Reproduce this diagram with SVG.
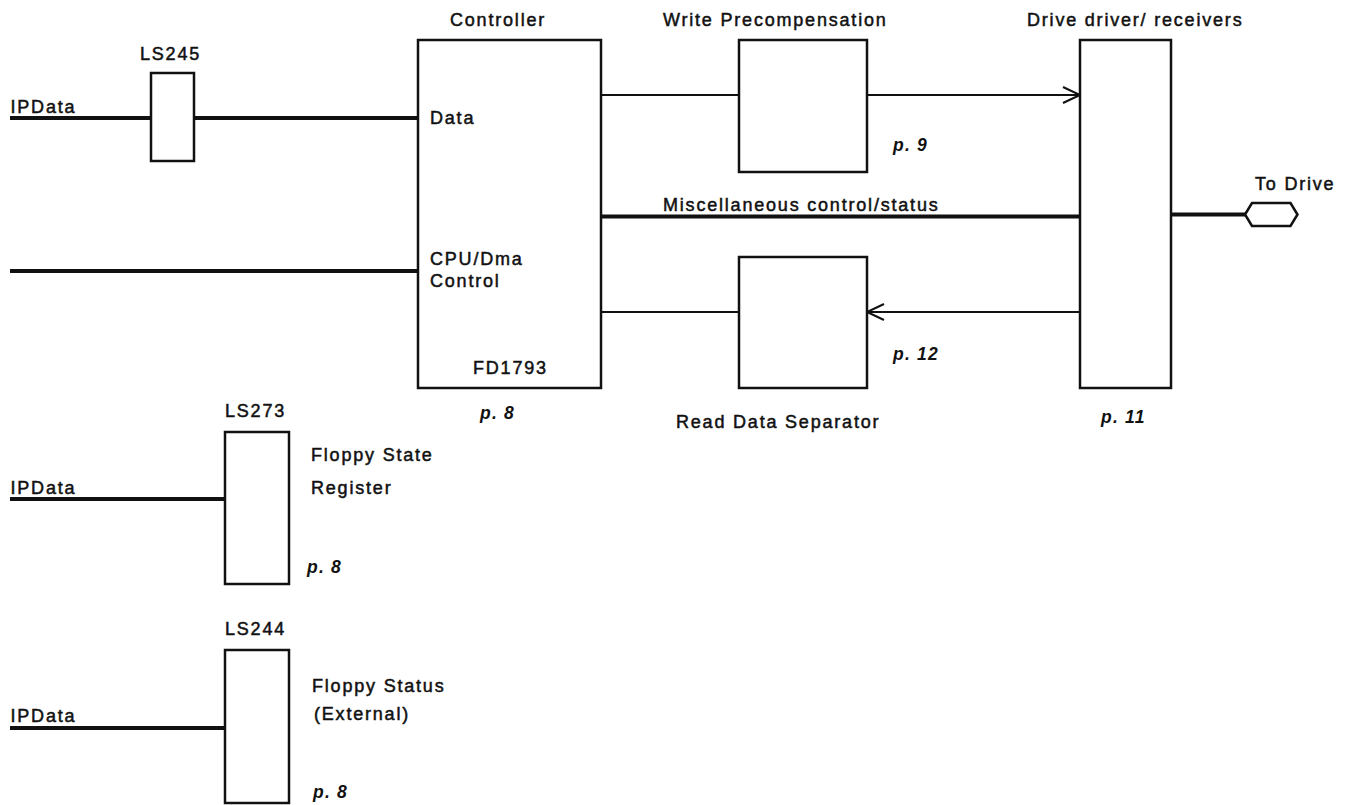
<svg xmlns="http://www.w3.org/2000/svg" width="1349" height="805" viewBox="0 0 1349 805">
<style>
  .box { fill: #fff; stroke: #111; stroke-width: 2.5; }
  .thick { stroke: #111; stroke-width: 4; fill: none; }
  .thin { stroke: #111; stroke-width: 2; fill: none; }
  .t { font-family: "Liberation Sans", Arial, sans-serif; font-size: 18px; letter-spacing: 1.8px; fill: #111; stroke: #111; stroke-width: 0.5; }
  .p { font-family: "Liberation Sans", Arial, sans-serif; font-size: 17.5px; font-style: italic; font-weight: bold; letter-spacing: 1.2px; fill: #111; }
</style>
<defs>
  <marker id="arr" markerUnits="userSpaceOnUse" markerWidth="20" markerHeight="20" refX="0" refY="0" orient="auto" overflow="visible">
    <path d="M-17,-8 L0,0 L-17,8" fill="none" stroke="#111" stroke-width="2"/>
  </marker>
</defs>
<rect width="1349" height="805" fill="#fff"/>

<g id="connectors">
  <line class="thick" x1="10" y1="118" x2="151" y2="118"/>
  <line class="thick" x1="194" y1="118" x2="418" y2="118"/>
  <line class="thick" x1="10" y1="271" x2="418" y2="271"/>
  <line class="thin" x1="601" y1="95" x2="739" y2="95"/>
  <line class="thin" x1="867" y1="95" x2="1080" y2="95" marker-end="url(#arr)"/>
  <line class="thick" x1="601" y1="216.5" x2="1080" y2="216.5"/>
  <line class="thin" x1="601" y1="312" x2="739" y2="312"/>
  <line class="thin" x1="1080" y1="312" x2="867" y2="312" marker-end="url(#arr)"/>
  <line class="thick" x1="1171" y1="214.5" x2="1245" y2="214.5"/>
  <line class="thick" x1="10" y1="499" x2="225" y2="499"/>
  <line class="thick" x1="10" y1="728" x2="225" y2="728"/>
</g>

<g id="ipdata1"><text class="t" x="10.5" y="112.5">IPData</text></g>

<g id="ls245">
  <rect class="box" x="151" y="73" width="43" height="88"/>
  <text class="t" x="140" y="59.5">LS245</text>
</g>

<g id="controller">
  <rect class="box" x="418" y="40" width="183" height="348"/>
  <text class="t" x="450" y="26">Controller</text>
  <text class="t" x="430" y="124">Data</text>
  <text class="t" x="430" y="265">CPU/Dma</text>
  <text class="t" x="430" y="287">Control</text>
  <text class="t" x="473" y="374">FD1793</text>
  <text class="p" x="480" y="419">p. 8</text>
</g>

<g id="write-precomp">
  <rect class="box" x="739" y="40" width="128" height="132"/>
  <text class="t" x="663" y="25.5">Write Precompensation</text>
  <text class="p" x="893" y="150.5">p. 9</text>
</g>

<g id="misc-label">
  <text class="t" x="663" y="210.5">Miscellaneous control/status</text>
</g>

<g id="read-sep">
  <rect class="box" x="739" y="257" width="128" height="131"/>
  <text class="t" x="676" y="427.5">Read Data Separator</text>
  <text class="p" x="893" y="360">p. 12</text>
</g>

<g id="drive">
  <rect class="box" x="1080" y="40" width="91" height="348"/>
  <text class="t" x="1027" y="25.5">Drive driver/ receivers</text>
  <text class="p" x="1101" y="422.5">p. 11</text>
</g>

<g id="to-drive">
  <polygon class="box" points="1245,214.5 1252,203 1290.5,203 1297.5,214.5 1290.5,226 1252,226"/>
  <text class="t" x="1255" y="189.5">To Drive</text>
</g>

<g id="ls273">
  <text class="t" x="10.5" y="493.5">IPData</text>
  <rect class="box" x="225" y="432" width="64" height="152"/>
  <text class="t" x="225" y="416.5">LS273</text>
  <text class="t" x="311" y="461">Floppy State</text>
  <text class="t" x="311" y="493.5">Register</text>
  <text class="p" x="307" y="572.5">p. 8</text>
</g>

<g id="ls244">
  <text class="t" x="10.5" y="721.5">IPData</text>
  <rect class="box" x="225" y="650" width="64" height="153"/>
  <text class="t" x="225" y="634.5">LS244</text>
  <text class="t" x="312" y="691.5">Floppy Status</text>
  <text class="t" x="314" y="720">(External)</text>
  <text class="p" x="313" y="798">p. 8</text>
</g>
</svg>
